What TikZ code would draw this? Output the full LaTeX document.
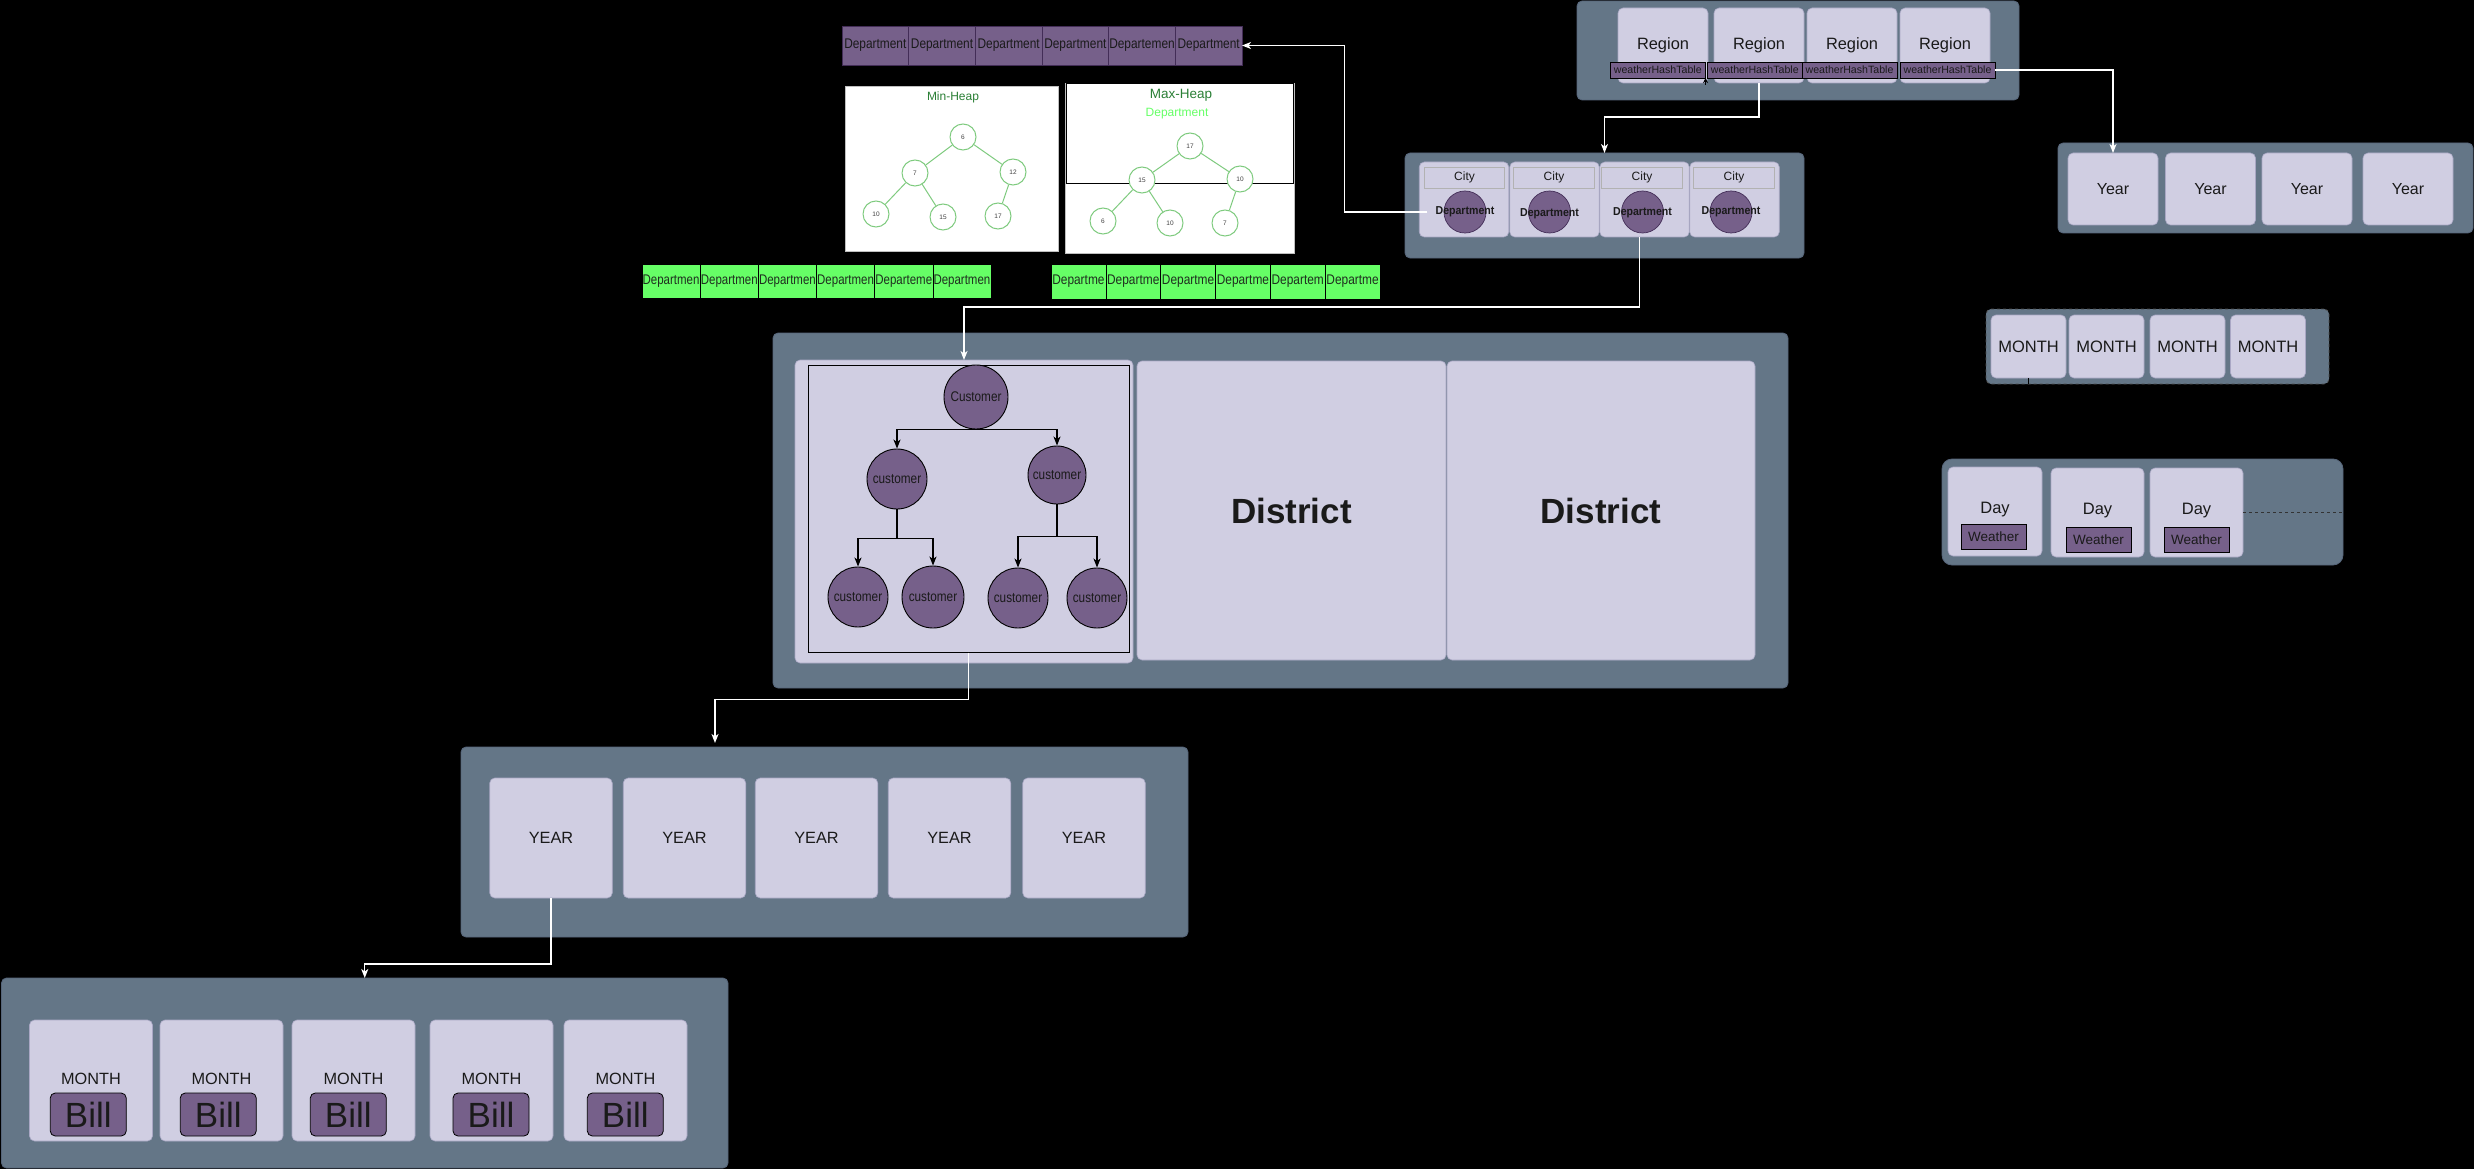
\documentclass[tikz,border=0pt]{standalone}
\usepackage{fontspec}
\usepackage{graphicx}
\setmainfont{Liberation Sans}
\usetikzlibrary{arrows.meta}
\definecolor{slate}{HTML}{647687}
\definecolor{slateedge}{HTML}{56657A}
\definecolor{cellfill}{HTML}{D0CEE2}
\definecolor{celledge}{HTML}{A9A7C4}
\definecolor{purp}{HTML}{76608A}
\definecolor{purpedge}{HTML}{432D57}
\definecolor{grn}{HTML}{66FF66}
\definecolor{hgreen}{HTML}{7FCB7F}
\definecolor{hdark}{HTML}{2A7F35}
\definecolor{txt}{HTML}{1A1A1A}
\definecolor{gtxt}{HTML}{1F2F1F}
\newcommand{\myfs}[1]{\fontsize{#1pt}{#1pt}\selectfont}
\newcommand{\narw}[2]{\scalebox{#1}[1]{#2}}
\begin{document}
\begin{tikzpicture}[x=1pt,y=-1pt,
  sz/.style 2 args={minimum width=#1pt,minimum height=#2pt},
  container/.style={draw=slateedge,fill=slate,rounded corners=5pt,line width=0.8pt,inner sep=0pt,outer sep=0pt},
  cellbox/.style={draw=celledge,fill=cellfill,rounded corners=5pt,line width=0.6pt,inner sep=0pt,outer sep=0pt,text=txt},
  pcell/.style={draw=purpedge,fill=purp,line width=0.6pt,inner sep=0pt,outer sep=0pt,text=txt,font=\myfs{14}},
  gcell/.style={draw=black,fill=grn,line width=0.6pt,inner sep=0pt,outer sep=0pt,text=gtxt,font=\myfs{14}},
  hnode/.style={circle,draw=hgreen,line width=1pt,fill=white,minimum size=26pt,inner sep=0pt,font=\myfs{6.5},text=black!75},
  hedge/.style={draw=hgreen,line width=1pt},
  cust/.style={circle,draw=black,fill=purp,line width=0.9pt,inner sep=0pt,font=\myfs{14},text=txt},
  wconn/.style={draw=white,line width=1.3pt,-{Stealth[length=9pt,width=7pt,inset=2.5pt]}},
  bconn/.style={draw=black,line width=1.2pt,-{Stealth[length=9pt,width=7pt,inset=2.5pt]}},
  pbox/.style={draw=black,fill=purp,line width=0.8pt,inner sep=0pt,outer sep=0pt,text=txt},
]
% background
\fill[black] (0,0) rectangle (2474,1169);
\useasboundingbox (0,0) rectangle (2474,1169);

% ---- purple department row
\foreach \i/\t in {0/Department,1/Department,2/Department,3/Department,4/Departemen,5/Department}
  \node[pcell,sz={66.67}{39}] (p\i) at ({875.33+66.67*\i},45.5) {\narw{0.85}{\t}};

% ---- green rows
\foreach \i/\t in {0/Departmen,1/Departmen,2/Departmen,3/Departmen,4/Departeme,5/Departmen}
  \node[gcell,sz={58.17}{34}] (gl\i) at ({671.08+58.17*\i},281) {\narw{0.82}{\t}};
\foreach \i/\t in {0/Departme,1/Departme,2/Departme,3/Departme,4/Departem,5/Departme}
  \node[gcell,sz={54.83}{35}] (gr\i) at ({1078.42+54.83*\i},281.5) {\narw{0.85}{\t}};

% ---- min heap picture
\node[draw=black!25,fill=white,sz={213}{165},inner sep=0pt] (minheap) at (951.5,168.5) {};
\node[text=hdark,font=\myfs{12}] (mintitle) at (953,97) {Min-Heap};
\node[hnode] (mn6) at (963,137) {6};
\node[hnode] (mn7) at (915,173) {7};
\node[hnode] (mn12) at (1013,172) {12};
\node[hnode] (mn10) at (876,214) {10};
\node[hnode] (mn15) at (943,217) {15};
\node[hnode] (mn17) at (998,216) {17};
\draw[hedge] (mn6) -- (mn7);
\draw[hedge] (mn6) -- (mn12);
\draw[hedge] (mn7) -- (mn10);
\draw[hedge] (mn7) -- (mn15);
\draw[hedge] (mn12) -- (mn17);

% ---- max heap picture
\node[draw=black!25,fill=white,sz={229}{170},inner sep=0pt] (maxheap) at (1179.5,168) {};
\node[draw=black,line width=0.9pt,sz={227}{100},inner sep=0pt] (maxtop) at (1179.5,133) {};
\node[text=hdark,font=\myfs{13.5}] (maxtitle) at (1181,95) {Max-Heap};
\node[text=grn,font=\myfs{12}] (maxdep) at (1177,114) {Department};
\node[hnode] (mx17) at (1190,146) {17};
\node[hnode] (mx15) at (1142,180) {15};
\node[hnode] (mx10) at (1240,179) {10};
\node[hnode] (mx6) at (1103,221) {6};
\node[hnode] (mx10b) at (1170,223) {10};
\node[hnode] (mx7) at (1225,223) {7};
\draw[hedge] (mx17) -- (mx15);
\draw[hedge] (mx17) -- (mx10);
\draw[hedge] (mx15) -- (mx6);
\draw[hedge] (mx15) -- (mx10b);
\draw[hedge] (mx10) -- (mx7);

% ---- Region container
\node[container,sz={442}{99}] (regionbox) at (1798,50.5) {};
\foreach \i/\x in {1/1663,2/1759,3/1852,4/1945}
  \node[cellbox,sz={90}{75},font=\myfs{16.4}] (r\i) at (\x,45.5) {Region};
\foreach \i/\x/\w in {1/1657.75/95.5,2/1754.75/94.5,3/1849.5/95,4/1947.5/95}
  \node[pbox,sz={\w}{16},font=\myfs{10.6}] (b\i) at (\x,70) {weatherHashTable};

% ---- City container
\node[container,sz={399}{105}] (citybox) at (1604.5,205.5) {};
\foreach \i/\x in {1/1464,2/1554.5,3/1644.5,4/1734.5}
  \node[cellbox,sz={89.5}{75}] (c\i) at (\x,199.5) {};
\foreach \i/\x in {1/1464.5,2/1554,3/1642,4/1734}
  \node[draw=black!30,fill=cellfill,line width=0.8pt,sz={80.5}{21},inner sep=0pt,font=\myfs{12},text=txt] (cl\i) at (\x,177.5) {City};
\foreach \i/\x/\ty in {1/1465/212,2/1549.5/214,3/1642.5/213,4/1731/212}{
  \node[circle,draw=purpedge,fill=purp,line width=0.7pt,minimum size=42pt,inner sep=0pt] (dc\i) at (\x,212) {};
  \node[font=\bfseries\myfs{11.5},text=txt,inner sep=0pt] (dt\i) at (\x,\ty) {\narw{0.92}{Department}};
}

% ---- Year container (right)
\node[container,sz={415}{90}] (ryearbox) at (2265.5,188) {};
\foreach \i/\x in {1/2113,2/2210.5,3/2307,4/2408}
  \node[cellbox,sz={90}{72},font=\myfs{16}] (ry\i) at (\x,189) {Year};

% ---- MONTH container (right)
\node[container,dashed,draw=black!70,sz={343}{75}] (rmonthbox) at (2157.5,346.5) {};
\foreach \i/\x in {1/2028.5,2/2106.5,3/2187.5,4/2268}
  \node[cellbox,sz={75}{63},font=\myfs{16.5}] (rm\i) at (\x,346.5) {MONTH};
\draw[black,line width=1pt] (rm1.south) -- ++(0,6);

% ---- Day container
\node[container,rounded corners=10pt,sz={401}{106}] (daybox) at (2142.5,512) {};
\node[cellbox,sz={94}{89}] (dy1) at (1995,511.5) {};
\node[cellbox,sz={93}{89}] (dy2) at (2097.5,512.5) {};
\node[cellbox,sz={93}{89}] (dy3) at (2196.5,512.5) {};
\node[font=\myfs{16.5},text=txt] (dl1) at (1995,510) {Day};
\node[font=\myfs{16.5},text=txt] (dl2) at (2097.5,511) {Day};
\node[font=\myfs{16.5},text=txt] (dl3) at (2196.5,511) {Day};
\node[pbox,sz={65}{25},font=\myfs{13.5}] (w1) at (1993.5,536.5) {Weather};
\node[pbox,sz={65}{25},font=\myfs{13.5}] (w2) at (2098.5,539.5) {Weather};
\node[pbox,sz={65}{25},font=\myfs{13.5}] (w3) at (2196.5,539.5) {Weather};
\draw[black!80,dashed,line width=1pt] (dy3.east) -- (daybox.east |- dy3.east);

% ---- District container
\node[container,sz={1015}{355}] (distbox) at (1280.5,510.5) {};
\node[cellbox,sz={338}{303}] (tc) at (964,511.5) {};
\node[cellbox,sz={309}{299},font=\bfseries\myfs{35}] (dist1) at (1291.5,510.5) {District};
\node[cellbox,sz={308}{299},font=\bfseries\myfs{35}] (dist2) at (1601,510.5) {District};
\node[draw=black,line width=1pt,sz={321}{287},inner sep=0pt] (treeframe) at (968.5,508.5) {};
\node[cust,minimum size=64pt] (root) at (976,397) {\narw{0.84}{Customer}};
\node[cust,minimum size=60pt] (lc) at (897,479) {\narw{0.84}{customer}};
\node[cust,minimum size=58pt] (rc) at (1057,475) {\narw{0.84}{customer}};
\node[cust,minimum size=60pt] (ll) at (858,597) {\narw{0.84}{customer}};
\node[cust,minimum size=62pt] (lr) at (933,597) {\narw{0.84}{customer}};
\node[cust,minimum size=60pt] (rl) at (1018,598) {\narw{0.84}{customer}};
\node[cust,minimum size=60pt] (rr) at (1097,598) {\narw{0.84}{customer}};
\draw[bconn] (root.south) -| (lc.north);
\draw[bconn] (root.south) -| (rc.north);
\draw[bconn] (lc.south) -- ++(0,29) -| (ll.north);
\draw[bconn] (lc.south) -- ++(0,29) -| (lr.north);
\draw[bconn] (rc.south) -- ++(0,32) -| (rl.north);
\draw[bconn] (rc.south) -- ++(0,32) -| (rr.north);

% ---- YEAR container
\node[container,sz={727}{190}] (yearbox) at (824.5,842) {};
\foreach \i/\x in {1/551,2/684.5,3/816.5,4/949.5,5/1084}
  \node[cellbox,sz={122.5}{120},font=\myfs{16.3}] (Y\i) at (\x,838) {YEAR};

% ---- MONTH / Bill container
\node[container,sz={726.5}{190}] (monthbox) at (364.75,1073) {};
\foreach \i/\x in {1/91,2/221.5,3/353.5,4/491.5,5/625.5}
  \node[cellbox,sz={123}{121}] (M\i) at (\x,1080.5) {};
\foreach \i/\x in {1/91,2/221.5,3/353.5,4/491.5,5/625.5}
  \node[font=\myfs{16.3},text=txt] (ML\i) at (\x,1079) {MONTH};
\foreach \i/\x in {1/88.25,2/218.25,3/348.3,4/491,5/625.3}
  \node[pbox,rounded corners=5pt,sz={76}{43},font=\myfs{35}] (bill\i) at (\x,1114.5) {Bill};

% ---- connectors
\coordinate (tinysrc) at (1705.5,85);
\draw[black,line width=0.8pt,-{Stealth[length=5pt,width=5pt]}] (tinysrc) -- (b1.south east);
\draw[wconn] ([xshift=-8pt]dt1.west) -- ++(-83,0) |- (p5.east);
\draw[wconn] (r2.south) -- ++(0,34) -| (citybox.north);
\draw[wconn] (b4.east) -| (ry1.north);
\draw[wconn] ([xshift=-5pt]c3.south) -- ++(0,70) -| (tc.north);
\draw[wconn] (treeframe.south) -- ++(0,47) -| ([xshift=-109.5pt,yshift=4pt]yearbox.north);
\draw[wconn] (Y1.south) -- ++(0,66) -| (monthbox.north);
\end{tikzpicture}
\end{document}
